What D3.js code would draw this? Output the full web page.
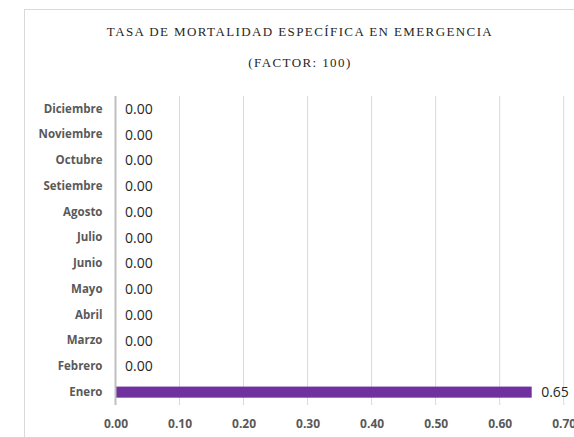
<!DOCTYPE html>
<html>
<head>
<meta charset="utf-8">
<script src="https://cdn.jsdelivr.net/npm/d3@7"></script>
<style>
  body { margin: 0; background: #fff; }
  svg { display: block; }
</style>
</head>
<body>
<div id="chart"></div>
<script>
var meses = ["Enero", "Febrero", "Marzo", "Abril", "Mayo", "Junio",
             "Julio", "Agosto", "Setiembre", "Octubre", "Noviembre", "Diciembre"];
var tasas = [0.65, 0, 0, 0, 0, 0, 0, 0, 0, 0, 0, 0];
var xTicks = [0, 0.1, 0.2, 0.3, 0.4, 0.5, 0.6, 0.7];
var titulo = ["TASA DE MORTALIDAD ESPECÍFICA EN EMERGENCIA", "(FACTOR: 100)"];

var w = 574, h = 437;
var m = {left: 115.5, right: 10.3, top: 96, bottom: 32};

var svg = d3.select("#chart").append("svg")
    .attr("width", w)
    .attr("height", h);

// chart frame
svg.append("rect")
    .attr("x", 24.5).attr("y", 9.5)
    .attr("width", 560).attr("height", 440)
    .attr("fill", "none")
    .attr("stroke", "#d9d9d9");

var x = d3.scaleLinear().domain([0, 0.7]).range([m.left, w - m.right]);
var y = d3.scaleBand().domain(meses.slice().reverse())
    .range([m.top, h - m.bottom]).paddingInner(0.57).paddingOuter(0.285);

// gridlines
svg.selectAll(".grid")
    .data(xTicks.slice(1))
    .enter().append("line")
    .attr("x1", function(d) { return x(d); })
    .attr("x2", function(d) { return x(d); })
    .attr("y1", m.top).attr("y2", h - m.bottom)
    .attr("stroke", "#d9d9d9").attr("stroke-width", 1);

// bars
svg.selectAll(".bar")
    .data(tasas)
    .enter().append("rect")
    .attr("x", x(0))
    .attr("y", function(d, i) { return y(meses[i]); })
    .attr("width", function(d) { return x(d) - x(0); })
    .attr("height", y.bandwidth())
    .attr("fill", "#7030a0");

// axis line
svg.append("line")
    .attr("x1", x(0)).attr("x2", x(0))
    .attr("y1", m.top).attr("y2", h - m.bottom)
    .attr("stroke", "#bfbfbf").attr("stroke-width", 2);

// value labels
svg.selectAll(".val")
    .data(tasas)
    .enter().append("text")
    .attr("x", function(d) { return x(d) + 9.5; })
    .attr("y", function(d, i) { return y(meses[i]) + y.bandwidth() / 2; })
    .attr("dy", "0.35em")
    .attr("font-family", "'Open Sans', sans-serif")
    .attr("font-size", 14)
    .attr("fill", "#262626")
    .text(function(d) { return d3.format(".2f")(d); });

// category axis
var yAxis = svg.append("g")
    .attr("transform", "translate(" + (x(0) - 13) + ",0)")
    .call(d3.axisLeft(y).tickSize(0).tickPadding(0));
yAxis.select(".domain").remove();
yAxis.selectAll("text")
    .attr("font-family", "'Open Sans', sans-serif")
    .attr("font-size", 11.5)
    .attr("font-weight", "bold")
    .attr("fill", "#595959");

// value axis
var xAxis = svg.append("g")
    .attr("transform", "translate(0," + (h - m.bottom) + ")")
    .call(d3.axisBottom(x).tickValues(xTicks).tickFormat(d3.format(".2f")).tickSize(0).tickPadding(14));
xAxis.select(".domain").remove();
xAxis.selectAll("text")
    .attr("font-family", "'Open Sans', sans-serif")
    .attr("font-size", 12)
    .attr("font-weight", "bold")
    .attr("fill", "#595959");

// title
svg.selectAll(".titulo")
    .data(titulo)
    .enter().append("text")
    .attr("x", 300)
    .attr("y", function(d, i) { return 36 + i * 31; })
    .attr("text-anchor", "middle")
    .attr("font-family", "'Liberation Serif', serif")
    .attr("font-size", 13)
    .attr("letter-spacing", 1.4)
    .attr("fill", "#262626")
    .text(function(d) { return d; });
</script>
</body>
</html>
